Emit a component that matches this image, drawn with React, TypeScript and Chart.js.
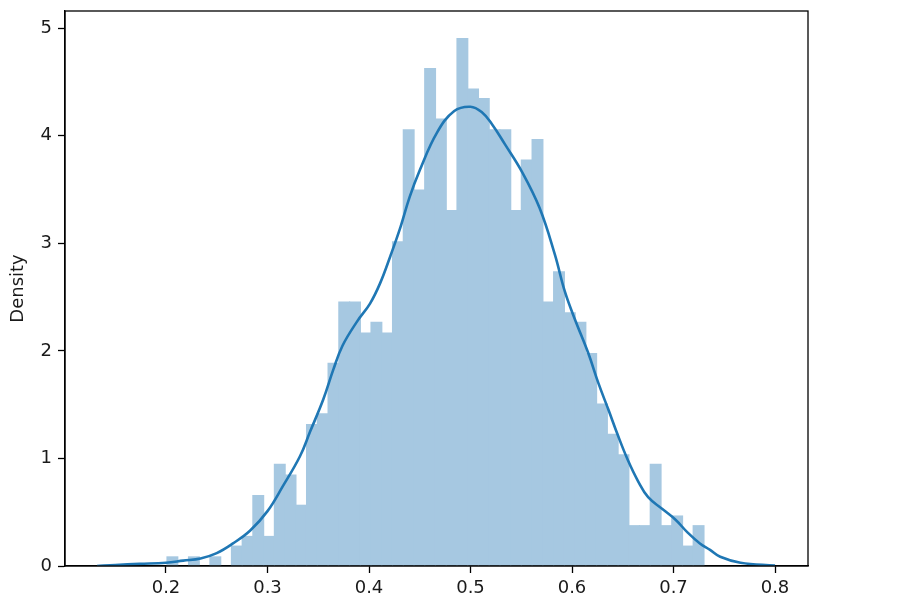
import React, { useEffect, useRef } from "react";
import { Chart, registerables } from "chart.js";

Chart.register(...registerables);

// Histogram bin centres (x) and densities
const binCenters = [
  0.2063, 0.2169, 0.2275, 0.238, 0.2486, 0.2592, 0.2698, 0.2804, 0.2909, 0.3015,
  0.3121, 0.3227, 0.3333, 0.3438, 0.3544, 0.365, 0.3756, 0.3862, 0.3967, 0.4073,
  0.4179, 0.4285, 0.4391, 0.4496, 0.4602, 0.4708, 0.4814, 0.492, 0.5025, 0.5131,
  0.5237, 0.5343, 0.5449, 0.5554, 0.566, 0.5766, 0.5872, 0.5978, 0.6083, 0.6189,
  0.6295, 0.6401, 0.6507, 0.6612, 0.6718, 0.6824, 0.693, 0.7036, 0.7141, 0.7247,
];
const histDensity = [
  0.09, 0, 0.09, 0, 0.09, 0, 0.19, 0.28, 0.66, 0.28,
  0.95, 0.85, 0.57, 1.32, 1.42, 1.89, 2.46, 2.46, 2.17, 2.27,
  2.17, 3.02, 4.06, 3.5, 4.63, 4.16, 3.31, 4.91, 4.44, 4.35,
  4.06, 4.06, 3.31, 3.78, 3.97, 2.46, 2.74, 2.36, 2.27, 1.98,
  1.51, 1.23, 1.04, 0.38, 0.38, 0.95, 0.38, 0.47, 0.19, 0.38,
];

// KDE curve points
const kdeX = [
  0.132, 0.15, 0.174, 0.2, 0.217, 0.234, 0.25, 0.266, 0.283, 0.3,
  0.315, 0.332, 0.342, 0.355, 0.365, 0.374, 0.388, 0.401, 0.411, 0.421,
  0.431, 0.44, 0.45, 0.467, 0.484, 0.5, 0.511, 0.521, 0.534, 0.551,
  0.568, 0.583, 0.593, 0.603, 0.616, 0.626, 0.636, 0.645, 0.655, 0.665,
  0.675, 0.689, 0.702, 0.714, 0.726, 0.736, 0.746, 0.766, 0.8,
];
const kdeY = [
  0.0, 0.01, 0.02, 0.03, 0.05, 0.07, 0.12, 0.21, 0.33, 0.51,
  0.74, 1.02, 1.25, 1.55, 1.83, 2.05, 2.27, 2.44, 2.63, 2.88,
  3.15, 3.43, 3.68, 4.03, 4.23, 4.27, 4.22, 4.11, 3.92, 3.66,
  3.33, 2.9, 2.55, 2.29, 1.98, 1.7, 1.45, 1.22, 0.985, 0.79,
  0.64, 0.53, 0.43, 0.31, 0.21, 0.15, 0.086, 0.03, 0.004,
];

const xTicks = [0.2, 0.3, 0.4, 0.5, 0.6, 0.7, 0.8];
const yTicks = [0, 1, 2, 3, 4, 5];

const FONT = { family: "'DejaVu Sans', sans-serif", size: 18 };
const TEXT = "#1a1a1a";

const boxPlugin = {
  id: "box",
  afterDatasetsDraw(chart: any) {
    const { ctx, chartArea } = chart;
    ctx.save();
    ctx.strokeStyle = "#000";
    ctx.lineWidth = 1.3;
    ctx.strokeRect(chartArea.left, chartArea.top, chartArea.right - chartArea.left, chartArea.bottom - chartArea.top);
    ctx.restore();
  },
};

export default function App() {
  const ref = useRef<HTMLCanvasElement>(null);
  useEffect(() => {
    if (!ref.current) return;
    const chart = new Chart(ref.current, {
      type: "bar",
      data: {
        datasets: [
          {
            type: "line",
            data: kdeX.map((x, i) => ({ x, y: kdeY[i] })),
            borderColor: "#1f77b4",
            borderWidth: 2.6,
            pointRadius: 0,
            tension: 0.4,
            fill: false,
            order: 0,
          } as any,
          {
            type: "bar",
            data: binCenters.map((x, i) => ({ x, y: histDensity[i] })),
            backgroundColor: "rgb(166,200,225)",
            borderWidth: 0,
            barPercentage: 1.12,
            categoryPercentage: 1,
            grouped: false,
            order: 1,
          } as any,
        ],
      },
      options: {
        responsive: false,
        animation: false,
        plugins: { legend: { display: false }, tooltip: { enabled: false } },
        layout: { padding: { top: 11, right: 108, left: 0, bottom: 0 } },
        scales: {
          x: {
            type: "linear",
            min: 0.1005,
            max: 0.8325,
            offset: false,
            afterBuildTicks: (s: any) => {
              s.ticks = xTicks.map((v) => ({ value: v }));
            },
            afterFit: (s: any) => {
              s.height = 50;
              s.paddingLeft = 0;
              s.paddingRight = 0;
            },
            ticks: {
              callback: (v: any) => Number(v).toFixed(1),
              font: FONT,
              color: TEXT,
              padding: 5,
              maxRotation: 0,
              autoSkip: false,
            },
            grid: { offset: false, drawOnChartArea: false, color: "#000", tickLength: 7, tickWidth: 1.3 },
            border: { color: "#000", width: 1.3 },
          },
          y: {
            type: "linear",
            min: 0,
            max: 5.16,
            afterBuildTicks: (s: any) => {
              s.ticks = yTicks.map((v) => ({ value: v }));
            },
            afterFit: (s: any) => {
              s.width = 65;
              s.paddingTop = 0;
              s.paddingBottom = 0;
            },
            ticks: {
              callback: (v: any) => String(v),
              font: FONT,
              color: TEXT,
              padding: 6,
            },
            title: { display: true, text: "Density", font: FONT, color: TEXT, padding: { top: 8, bottom: 0 } },
            grid: { offset: false, drawOnChartArea: false, color: "#000", tickLength: 7, tickWidth: 1.3 },
            border: { color: "#000", width: 1.3 },
          },
        },
      } as any,
      plugins: [boxPlugin],
    });
    return () => chart.destroy();
  }, []);
  return (
    <div style={{ position: "fixed", left: 0, top: 0, width: 916, height: 616, background: "#fff" }}>
      <canvas ref={ref} width={916} height={616} style={{ width: 916, height: 616 }} />
    </div>
  );
}
